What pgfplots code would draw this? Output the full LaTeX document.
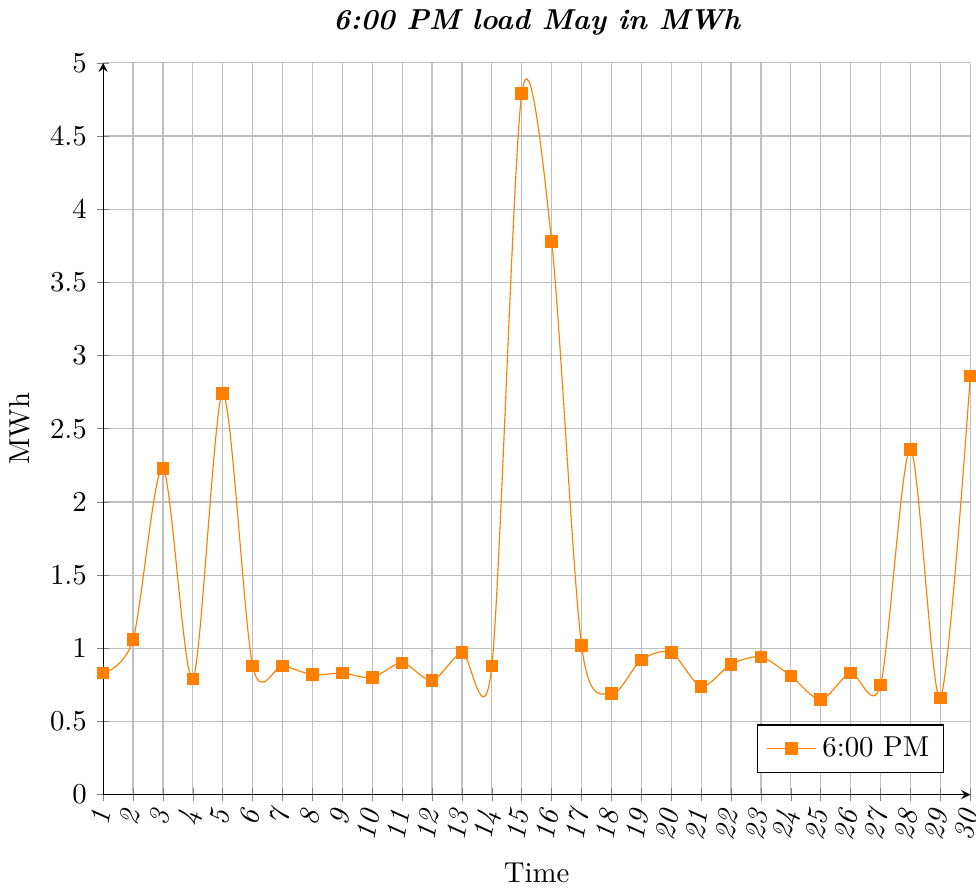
\documentclass[border=0pt]{standalone}
\usepackage{pgfplots}
\pgfplotsset{compat=1.18}

\begin{document}
\begin{tikzpicture}
\begin{axis}[
    scale only axis,
    width=301pt,
    height=254pt,
    title={\bfseries\itshape 6:00 PM load May in MWh},
    xlabel={Time},
    ylabel={MWh},
    axis lines=left,
    xmin=1, xmax=30,
    ymin=0, ymax=5,
    xtick={1,...,30},
    xticklabels={1,2,3,4,5,6,7,8,9,10,11,12,13,14,15,16,17,18,19,20,21,22,23,24,25,26,27,28,29,30},
    xticklabel style={font=\itshape, rotate=80, anchor=east, overlay},
    ytick={0,0.5,...,5},
    grid=major,
    legend pos=south east,
    legend cell align=left,
]
\addplot+[orange, smooth, mark=square*, mark options={fill=orange, draw=orange}] coordinates {
    (1,0.83) (2,1.06) (3,2.23) (4,0.79) (5,2.74) (6,0.88) (7,0.88) (8,0.82)
    (9,0.83) (10,0.80) (11,0.90) (12,0.78) (13,0.97) (14,0.88) (15,4.79)
    (16,3.78) (17,1.02) (18,0.69) (19,0.92) (20,0.97) (21,0.74) (22,0.89)
    (23,0.94) (24,0.81) (25,0.65) (26,0.83) (27,0.75) (28,2.36) (29,0.66)
    (30,2.86)
};
\legend{6:00 PM}
\end{axis}
\end{tikzpicture}
\end{document}
